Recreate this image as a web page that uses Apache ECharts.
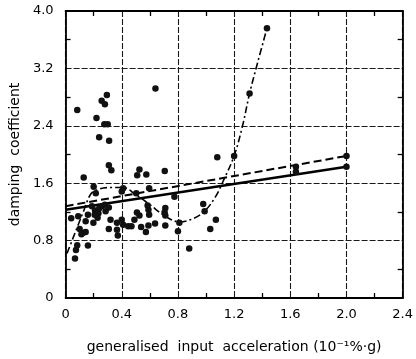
<!DOCTYPE html>
<html>
<head>
<meta charset="utf-8">
<script src="https://cdn.jsdelivr.net/npm/echarts@6/dist/echarts.min.js"></script>
<style>html,body{margin:0;padding:0;background:#fff}#c{width:416px;height:359px}</style>
</head>
<body>
<div id="c"></div>
<script>
var xTickLabels = ['0', '0.4', '0.8', '1.2', '1.6', '2.0', '2.4'];
var yTickLabels = ['0', '0.8', '1.6', '2.4', '3.2', '4.0'];

var measuredPoints = [
  [0.083,2.62],[0.22,2.51],[0.257,2.75],[0.28,2.70],[0.294,2.83],[0.276,2.42],[0.30,2.42],
  [0.239,2.24],[0.31,2.19],[0.308,1.85],[0.326,1.78],[0.129,1.68],[0.526,1.79],[0.51,1.71],
  [0.575,1.72],[0.64,2.92],[0.706,1.77],
  [0.20,1.55],[0.215,1.46],[0.41,1.53],[0.40,1.485],[0.503,1.46],[0.595,1.53],[0.775,1.41],[0.98,1.31],
  [0.188,1.28],[0.21,1.22],[0.234,1.18],[0.207,1.16],[0.257,1.28],[0.285,1.21],[0.28,1.30],
  [0.228,1.12],[0.159,1.16],[0.09,1.14],[0.04,1.11],[0.143,1.07],[0.198,1.05],[0.32,1.09],
  [0.366,1.05],[0.41,1.02],[0.308,0.96],[0.366,0.95],[0.372,0.87],[0.446,1.00],[0.10,0.96],
  [0.124,0.91],[0.143,0.92],[0.113,0.89],[0.083,0.735],[0.074,0.67],[0.067,0.55],[0.159,0.73],
  [0.308,1.26],[0.24,1.25],
  [0.584,1.29],[0.59,1.23],[0.595,1.16],[0.71,1.255],[0.705,1.195],[0.71,1.15],[0.508,1.19],
  [0.526,1.15],[0.49,1.09],[0.40,1.09],[0.469,1.0],[0.538,0.99],[0.59,1.01],[0.572,0.92],
  [0.637,1.04],[0.71,1.01],[0.81,1.05],[0.80,0.93],[0.88,0.69],[0.99,1.21],[1.07,1.09],
  [1.03,0.96],[1.08,1.96],[1.2,1.98],[1.31,2.85],[1.434,3.76],
  [1.64,1.83],[1.64,1.76],[2.0,1.98],[2.0,1.83]
];

var curveX = [0.01, 0.05, 0.09, 0.13, 0.18, 0.24, 0.32, 0.41, 0.50, 0.60, 0.71, 0.81, 0.90, 0.99, 1.07, 1.12, 1.20, 1.26, 1.31, 1.37, 1.434];
var curveY = [0.62, 0.82, 1.02, 1.22, 1.45, 1.52, 1.54, 1.54, 1.44, 1.30, 1.14, 1.06, 1.10, 1.21, 1.42, 1.62, 1.98, 2.40, 2.85, 3.30, 3.76];

var dashedLineX = [0, 2.0];
var dashedLineY = [1.28, 1.98];
var solidLineX = [0, 2.0];
var solidLineY = [1.23, 1.83];

function zip(a, b) { return a.map(function (v, i) { return [v, b[i]]; }); }

var ink = '#000';
var font = 'DejaVu Sans';

function xAxisDef(pos, showLabel) {
  return {
    type: 'value', position: pos, min: 0, max: 2.4, interval: 0.4,
    axisLine: { show: true, onZero: false, lineStyle: { color: ink, width: 1.8 } },
    axisTick: { show: false, inside: true },
    minorTick: { show: true, splitNumber: 2, length: 5, lineStyle: { color: ink, width: 1.3 } },
    splitLine: { show: pos === 'bottom', lineStyle: { color: '#1a1a1a', width: 1.1, type: [6, 2] } },
    axisLabel: showLabel ? {
      show: true, color: ink, fontFamily: font, fontSize: 13, margin: 10,
      formatter: function (v) { return xTickLabels[Math.round(v / 0.4)] || ''; }
    } : { show: false },
    name: showLabel ? 'generalised  input  acceleration (10\u207B\u00B9%\u00B7g)' : '',
    nameLocation: 'middle', nameGap: 42,
    nameTextStyle: { color: ink, fontFamily: font, fontSize: 14 }
  };
}
function yAxisDef(pos, showLabel) {
  return {
    type: 'value', position: pos, min: 0, max: 4.0, interval: 0.8,
    axisLine: { show: true, onZero: false, lineStyle: { color: ink, width: 1.8 } },
    axisTick: { show: false, inside: true },
    minorTick: { show: true, splitNumber: 2, length: 5, lineStyle: { color: ink, width: 1.3 } },
    splitLine: { show: pos === 'left', lineStyle: { color: '#1a1a1a', width: 1.1, type: [6, 2] } },
    axisLabel: showLabel ? {
      show: true, color: ink, fontFamily: font, fontSize: 13, margin: 12,
      formatter: function (v) { return yTickLabels[Math.round(v / 0.8)] || ''; }
    } : { show: false },
    name: showLabel ? 'damping  coefficient' : '',
    nameLocation: 'middle', nameGap: 34, nameRotate: 90,
    nameTextStyle: { color: ink, fontFamily: font, fontSize: 14 }
  };
}

var chart = echarts.init(document.getElementById('c'), null, { renderer: 'canvas' });
chart.setOption({
  backgroundColor: '#fff',
  animation: false,
  grid: { left: 57, right: 10, top: 11, bottom: 58, containLabel: false },
  xAxis: [xAxisDef('bottom', true), xAxisDef('top', false)],
  yAxis: [yAxisDef('left', true), yAxisDef('right', false)],
  series: [
    {
      type: 'line', data: zip(solidLineX, solidLineY), symbol: 'none',
      lineStyle: { color: ink, width: 2.6 }, z: 3
    },
    {
      type: 'line', data: zip(dashedLineX, dashedLineY), symbol: 'none',
      lineStyle: { color: ink, width: 2, type: [8, 4] }, z: 3
    },
    {
      type: 'line', data: zip(curveX, curveY), symbol: 'none', smooth: 0.35,
      lineStyle: { color: ink, width: 1.6, type: [7, 3, 2, 3] }, z: 3
    },
    {
      type: 'scatter', data: measuredPoints, symbol: 'circle', symbolSize: 6.5,
      itemStyle: { color: '#111', opacity: 1 }, z: 4
    }
  ]
});
</script>
</body>
</html>
